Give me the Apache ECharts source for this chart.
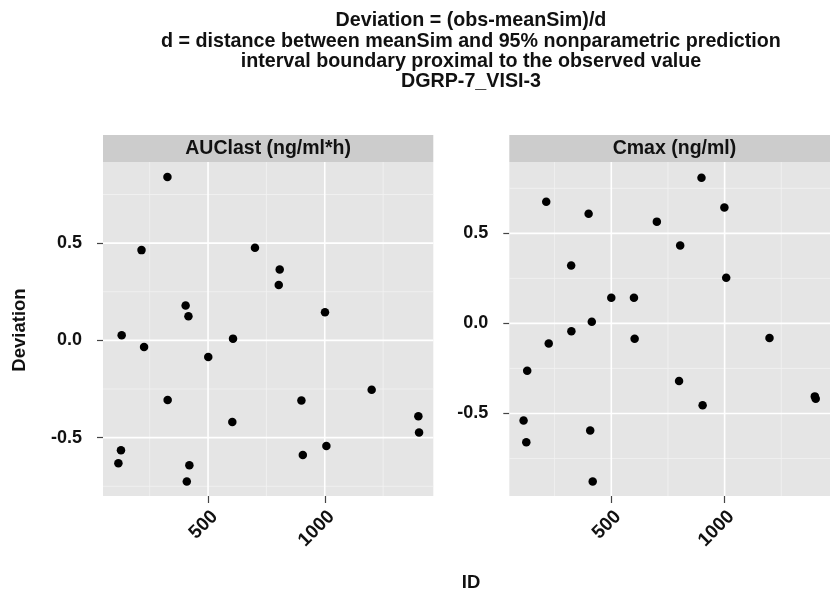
<!DOCTYPE html>
<html>
<head>
<meta charset="utf-8">
<script src="https://cdn.jsdelivr.net/npm/echarts@6/dist/echarts.min.js"></script>
<style>
  html, body { margin: 0; padding: 0; background: #ffffff; }
  #chart { width: 830px; height: 594px; }
</style>
</head>
<body>
<div id="chart"></div>
<script>
const titleLines = [
  "Deviation = (obs-meanSim)/d",
  "d = distance between meanSim and 95% nonparametric prediction",
  "interval boundary proximal to the observed value",
  "DGRP-7_VISI-3"
];
const panelNames = ["AUClast (ng/ml*h)", "Cmax (ng/ml)"];
const xAxisTitle = "ID";
const yAxisTitle = "Deviation";

const auclastID  = [116, 127, 130, 215, 226, 326, 327, 404, 409, 416, 420, 501, 604, 607, 701, 803, 807, 900, 906, 1001, 1007, 1201, 1401, 1404];
const auclastDev = [-0.632, -0.565, 0.026, 0.464, -0.034, 0.84, -0.306, 0.179, -0.725, 0.124, -0.642, -0.086, -0.42, 0.009, 0.476, 0.285, 0.364, -0.309, -0.589, 0.144, -0.543, -0.254, -0.39, -0.474];

const cmaxID  = [113, 125, 129, 213, 224, 323, 324, 400, 407, 414, 418, 500, 600, 603, 701, 799, 804, 898, 903, 999, 1007, 1198, 1398, 1402];
const cmaxDev = [-0.539, -0.659, -0.263, 0.676, -0.111, 0.322, -0.043, 0.609, -0.594, 0.009, -0.878, 0.142, 0.142, -0.085, 0.565, -0.319, 0.433, 0.809, -0.454, 0.644, 0.253, -0.081, -0.405, -0.418];

const xTickLabels = [500, 1000];
const xMinorBreaks = [250, 750, 1250];
const yTickLabels = [-0.5, 0.0, 0.5];
const yMinorBreaks = [-0.75, -0.25, 0.25, 0.75];

const xRange = [50, 1465];
const yRanges = [[-0.80, 0.917], [-0.958, 0.896]];

const FONT = '"Liberation Sans", Arial, Helvetica, sans-serif';
const chart = echarts.init(document.getElementById('chart'), null, { renderer: 'canvas' });

const grids = [
  { left: 103, top: 162, width: 330.3, height: 334 },
  { left: 509.3, top: 162, width: 330.3, height: 334 }
];

const MINOR = { color: '#F2F2F2', width: 0.8 };
const MAJOR = { color: '#FFFFFF', width: 1.6 };

const xAxes = grids.map((g, i) => ({
  type: 'value', gridIndex: i, position: 'bottom', min: xRange[0], max: xRange[1],
  axisLine: { show: false, onZero: false },
  splitLine: { show: false },
  axisTick: { show: true, customValues: xTickLabels, length: 7, lineStyle: { color: '#444', width: 1.2 } },
  axisLabel: {
    customValues: xTickLabels, rotate: 45, margin: 11,
    align: 'right', verticalAlign: 'top',
    color: '#111', fontSize: 19, fontWeight: 'bold', fontFamily: FONT,
    formatter: v => String(v)
  }
}));
const yAxes = grids.map((g, i) => ({
  type: 'value', gridIndex: i, position: 'left', min: yRanges[i][0], max: yRanges[i][1],
  axisLine: { show: false, onZero: false },
  splitLine: { show: false },
  axisTick: { show: true, customValues: yTickLabels, length: 6, lineStyle: { color: '#444', width: 1.2 } },
  axisLabel: {
    customValues: yTickLabels, margin: 21,
    color: '#111', fontSize: 18, fontWeight: 'bold', fontFamily: FONT,
    formatter: v => v.toFixed(1)
  }
}));

const pointSets = [
  auclastID.map((id, k) => [id, auclastDev[k]]),
  cmaxID.map((id, k) => [id, cmaxDev[k]])
];

const series = [];
function addLine(i, data, style) {
  series.push({
    type: 'line', xAxisIndex: i, yAxisIndex: i, data: data, z: 1, silent: true,
    symbol: 'none', animation: false, lineStyle: style
  });
}
grids.forEach((g, i) => {
  const yr = yRanges[i];
  xMinorBreaks.forEach(v => addLine(i, [[v, yr[0]], [v, yr[1]]], MINOR));
  yMinorBreaks.forEach(v => addLine(i, [[xRange[0], v], [xRange[1], v]], MINOR));
  xTickLabels.forEach(v => addLine(i, [[v, yr[0]], [v, yr[1]]], MAJOR));
  yTickLabels.forEach(v => addLine(i, [[xRange[0], v], [xRange[1], v]], MAJOR));
  series.push({
    type: 'scatter', xAxisIndex: i, yAxisIndex: i, z: 3,
    symbol: 'circle', symbolSize: 8.5,
    itemStyle: { color: '#000000', opacity: 1 },
    data: pointSets[i]
  });
});

const graphics = [];
titleLines.forEach((t, k) => {
  graphics.push({
    type: 'text', x: 471, y: 21 + k * 20.3,
    style: { text: t, align: 'center', verticalAlign: 'middle', fill: '#111', font: 'bold 19.7px ' + FONT }
  });
});
grids.forEach((g, i) => {
  graphics.push({
    type: 'rect', shape: { x: g.left, y: 135, width: g.width, height: 27 },
    style: { fill: '#CCCCCC' }, z: 0
  });
  graphics.push({
    type: 'text', x: g.left + g.width / 2, y: 148.5,
    style: { text: panelNames[i], align: 'center', verticalAlign: 'middle', fill: '#111', font: 'bold 19.5px ' + FONT }
  });
});
graphics.push({
  type: 'text', x: 471, y: 583,
  style: { text: xAxisTitle, align: 'center', verticalAlign: 'middle', fill: '#111', font: 'bold 18.5px ' + FONT }
});
graphics.push({
  type: 'text', x: 20, y: 330, rotation: Math.PI / 2,
  style: { text: yAxisTitle, align: 'center', verticalAlign: 'middle', fill: '#111', font: 'bold 18.5px ' + FONT }
});

chart.setOption({
  animation: false,
  backgroundColor: '#ffffff',
  grid: grids.map(g => Object.assign({ show: true, backgroundColor: '#E5E5E5', borderWidth: 0, containLabel: false }, g)),
  xAxis: xAxes,
  yAxis: yAxes,
  series: series,
  graphic: graphics
});
</script>
</body>
</html>
